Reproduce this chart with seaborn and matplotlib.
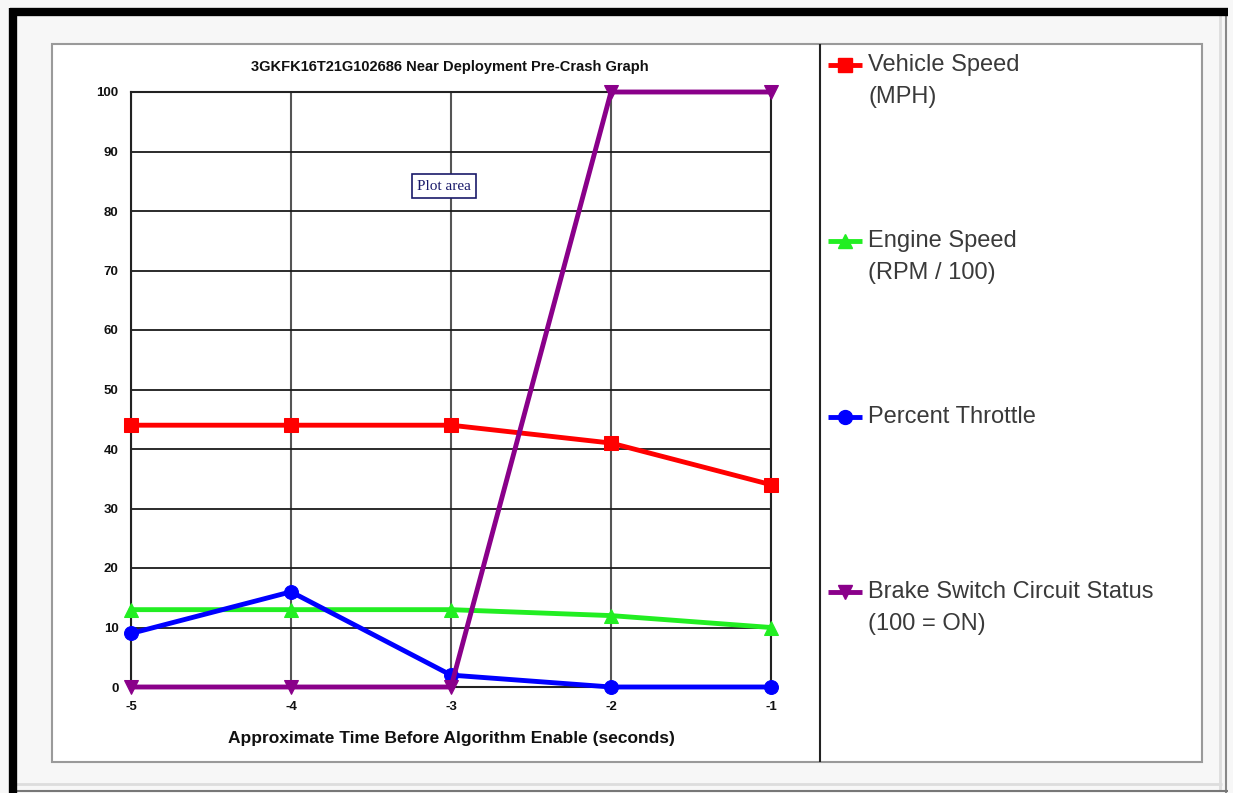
import matplotlib
matplotlib.use("Agg")
import matplotlib.pyplot as plt
import seaborn as sns
import pandas as pd
from matplotlib.lines import Line2D
from matplotlib.patches import Rectangle

# ---- data ----
time_s = [-5, -4, -3, -2, -1]
vehicle_speed = [44, 44, 44, 41, 34]
engine_speed = [13, 13, 13, 12, 10]
throttle = [9, 16, 2, 0, 0]
brake = [0, 0, 0, 100, 100]
series_names = ["Vehicle Speed\n(MPH)", "Engine Speed\n(RPM / 100)",
                "Percent Throttle", "Brake Switch Circuit Status\n(100 = ON)"]
series_values = [vehicle_speed, engine_speed, throttle, brake]
colors = ["#ff0000", "#22ee22", "#0000ff", "#8a008a"]
markers = ["s", "^", "o", "v"]
y_ticks = [0, 10, 20, 30, 40, 50, 60, 70, 80, 90, 100]
title = "3GKFK16T21G102686 Near Deployment Pre-Crash Graph"
xlabel = "Approximate Time Before Algorithm Enable (seconds)"

sns.set_theme(style="white")
plt.rcParams['font.family'] = ['Liberation Sans', 'DejaVu Sans']

W, H = 1233, 793
fig = plt.figure(figsize=(W / 100, H / 100), dpi=100)
fig.patch.set_facecolor("#f7f7f7")

def fx(px):
    return px / W

def fy(py):
    return 1 - py / H

def fline(xs, ys, **kw):
    ln = Line2D([fx(v) for v in xs], [fy(v) for v in ys], transform=fig.transFigure,
                solid_capstyle="butt", **kw)
    fig.add_artist(ln)

# inner white panel with gray border
fig.add_artist(Rectangle((fx(52), fy(762)), fx(1202) - fx(52), fy(44) - fy(762),
                         transform=fig.transFigure, facecolor="white",
                         edgecolor="#9a9a9a", lw=1.5, zorder=0))
# divider between plot and legend
fline([820, 820], [44, 762], color="#222222", lw=1.5)
# outer frame
fline([1220, 1220], [15, 790], color="#dddddd", lw=2)
fline([16, 1222], [784, 784], color="#dddddd", lw=2)
fline([1226, 1226], [12, 793], color="#888888", lw=1.5)
fline([16, 1228], [791, 791], color="#777777", lw=1.5)
fline([13, 13], [8, 793], color="black", lw=6)
fline([10, 1228], [12, 12], color="black", lw=6)

ax = fig.add_axes([fx(131), fy(687), fx(771) - fx(131), fy(92) - fy(687)])
ax.set_facecolor("white")

rows = []
for name, vals in zip(series_names, series_values):
    for t, v in zip(time_s, vals):
        rows.append({"time": t, "value": v, "series": name})
df = pd.DataFrame(rows)

for name, c, m in zip(series_names, colors, markers):
    sub = df[df["series"] == name]
    sns.lineplot(data=sub, x="time", y="value", ax=ax, color=c, marker=m,
                 markersize=10, markeredgecolor=c, linewidth=3.5, clip_on=False,
                 zorder=5, legend=False)

ax.set_xlim(-5, -1)
ax.set_ylim(0, 100)
ax.set_xticks(time_s)
ax.set_yticks(y_ticks)
ax.set_xticklabels([str(t) for t in time_s], fontweight="bold", fontsize=9.5)
ax.set_yticklabels([str(v) for v in y_ticks], fontweight="bold", fontsize=9.5)
ax.tick_params(axis="x", length=0, pad=10, colors="#111111")
ax.tick_params(axis="y", length=0, pad=9, colors="#111111")
ax.grid(True, axis="y", color="#1a1a1a", lw=1.3)
ax.grid(True, axis="x", color="#555555", lw=1.5)
ax.set_axisbelow(True)
for s in ax.spines.values():
    s.set_color("#222222")
    s.set_linewidth(1.5)
ax.set_xlabel(xlabel, fontweight="bold", fontsize=12.5, labelpad=13, color="#111111")
ax.set_ylabel("")

fig.text(fx(450), fy(67), title, ha="center", va="center", fontweight="bold",
         fontsize=10.5, color="#111111")

ax.text(fx(444), fy(186), "Plot area", transform=fig.transFigure, ha="center",
        va="center", family="Liberation Serif", fontsize=11, color="#1a1a6a",
        bbox=dict(boxstyle="square,pad=0.35", facecolor="white", edgecolor="#1a1a6a", lw=1.2),
        zorder=10)

# legend
leg_y = [65, 241, 417, 592]
for name, c, m, yy in zip(series_names, colors, markers, leg_y):
    fline([828, 862], [yy, yy], color=c, lw=3.5)
    fig.add_artist(Line2D([fx(845)], [fy(yy)], transform=fig.transFigure, color=c,
                          marker=m, markersize=10, markeredgecolor=c))
    for i, part in enumerate(name.split("\n")):
        fig.text(fx(868), fy(yy + i * 32), part, ha="left", va="center", fontsize=17,
                 color="#3a3a3a")

fig.savefig("out.png", dpi=100, facecolor=fig.get_facecolor())
